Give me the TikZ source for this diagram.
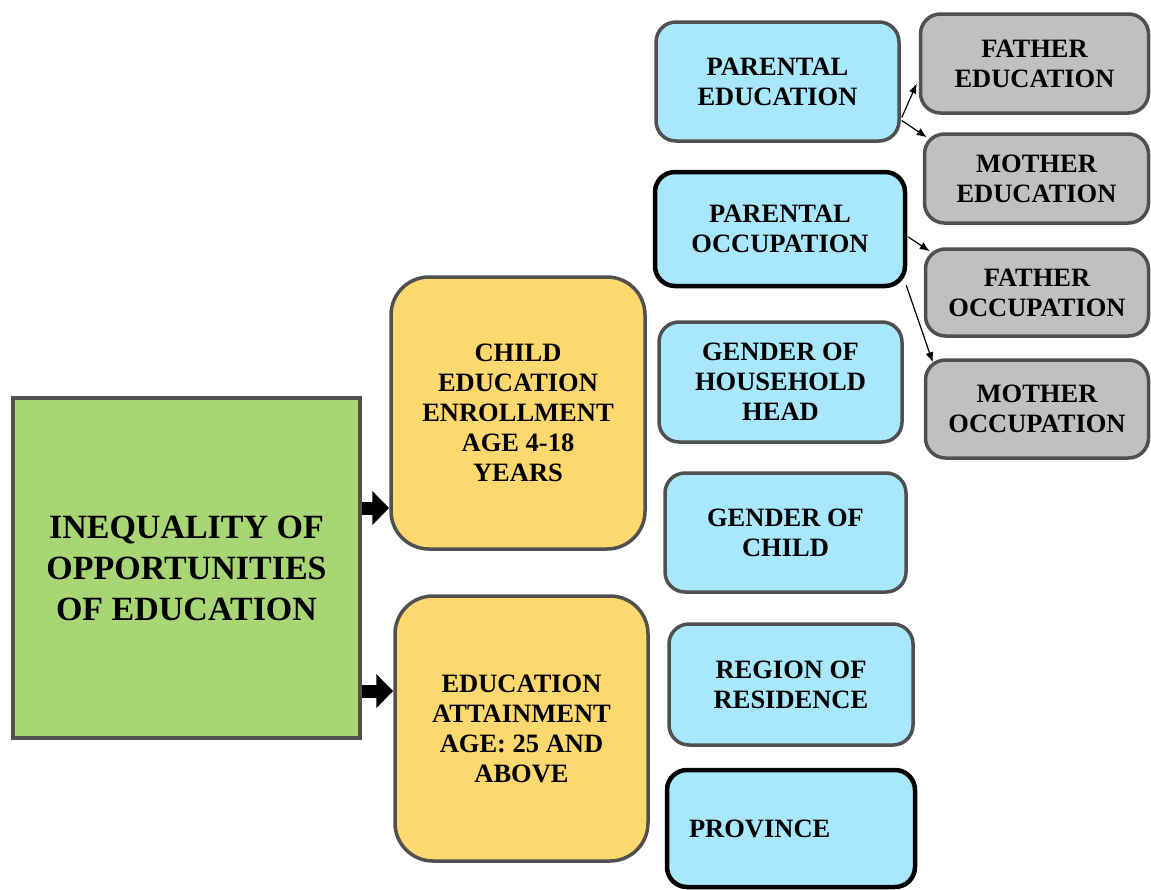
\documentclass[tikz,border=0pt]{standalone}
\usepackage{fontspec}
\setmainfont{Liberation Serif}
\usetikzlibrary{arrows.meta,calc}

\definecolor{mainGreen}{HTML}{A9D674}
\definecolor{midYellow}{HTML}{FDD86E}
\definecolor{factorBlue}{HTML}{A9E7FC}
\definecolor{subGray}{HTML}{C0C0C0}
\definecolor{edgeGray}{HTML}{505050}

\tikzset{
  base/.style={inner sep=0pt, align=center, font=\bfseries\fontsize{26.5}{30}\selectfont},
  rootbox/.style={base, draw=edgeGray, line width=4pt, fill=mainGreen,
    font=\bfseries\fontsize{34}{41}\selectfont},
  groupbox/.style={base, draw=edgeGray, line width=3.5pt, fill=midYellow, rounded corners=38pt},
  factorbox/.style={base, draw=edgeGray, line width=3.5pt, fill=factorBlue, rounded corners=20pt},
  keyfactor/.style={factorbox, draw=black, line width=4.5pt},
  subbox/.style={base, draw=edgeGray, line width=3.5pt, fill=subGray, rounded corners=20pt},
  blockarrow/.style={line width=13pt, -{Triangle[length=17pt,width=33pt]}},
  thinarrow/.style={line width=1.2pt, -{Latex[length=10pt,width=8pt]}},
}

\begin{document}
\begin{tikzpicture}[x=1pt,y=1pt]
\useasboundingbox (0,0) rectangle (1151,-889);

% root
\node[rootbox, minimum width=347pt, minimum height=340pt] (g) at (186.5,-568)
  {INEQUALITY OF\\OPPORTUNITIES\\OF EDUCATION};

% outcome groups
\node[groupbox, minimum width=254pt, minimum height=272pt] (y1) at (518,-413)
  {CHILD\\EDUCATION\\ENROLLMENT\\AGE 4-18\\YEARS};
\node[groupbox, minimum width=253pt, minimum height=265pt] (y2) at (521.5,-728.5)
  {EDUCATION\\ATTAINMENT\\AGE: 25 AND\\ABOVE};

% circumstance factors
\node[factorbox, minimum width=243pt, minimum height=119pt] (pe) at (777.5,-81.5)
  {PARENTAL\\EDUCATION};
\node[keyfactor, minimum width=250pt, minimum height=114pt] (po) at (780,-229)
  {PARENTAL\\OCCUPATION};
\node[factorbox, minimum width=243pt, minimum height=120pt] (gh) at (780.5,-382)
  {GENDER OF\\HOUSEHOLD\\HEAD};
\node[factorbox, minimum width=241pt, minimum height=119pt] (gc) at (785.5,-532.5)
  {GENDER OF\\CHILD};
\node[factorbox, minimum width=244pt, minimum height=121pt] (rr) at (791,-684.5)
  {REGION OF\\RESIDENCE};
\node[keyfactor, minimum width=248pt, minimum height=117pt, inner xsep=22pt,
      text width=204pt, align=left] (pr) at (791,-828.5) {PROVINCE};

% parental sub-factors
\node[subbox, minimum width=228pt, minimum height=99pt] (fe) at (1034.5,-63.5)
  {FATHER\\EDUCATION};
\node[subbox, minimum width=224pt, minimum height=89pt] (me) at (1036.5,-178.5)
  {MOTHER\\EDUCATION};
\node[subbox, minimum width=223pt, minimum height=87pt] (fo) at (1037,-292.5)
  {FATHER\\OCCUPATION};
\node[subbox, minimum width=223pt, minimum height=98pt] (mo) at (1037,-409)
  {MOTHER\\OCCUPATION};

% block arrows from the root
\coordinate (s1) at ($(g.east)+(0,60)$);
\coordinate (s2) at ($(g.east)+(0,-123)$);
\draw[blockarrow] (s1) -- (s1 -| y1.west);
\draw[blockarrow] (s2) -- (s2 -| y2.west);

% thin arrows to sub-factors
\draw[thinarrow] ($(pe.east)+(1,-36)$) -- ($(fe.west)+(-2,-20)$);
\draw[thinarrow] ($(pe.east)+(1,-39)$) -- ($(me.north west)+(4,-5)$);
\draw[thinarrow] ($(po.east)+(1,-8)$) -- ($(fo.north west)+(6,-4)$);
\draw[thinarrow] ($(po.south east)+(-1,3)$) -- ($(mo.north west)+(9,-4)$);
\end{tikzpicture}
\end{document}
